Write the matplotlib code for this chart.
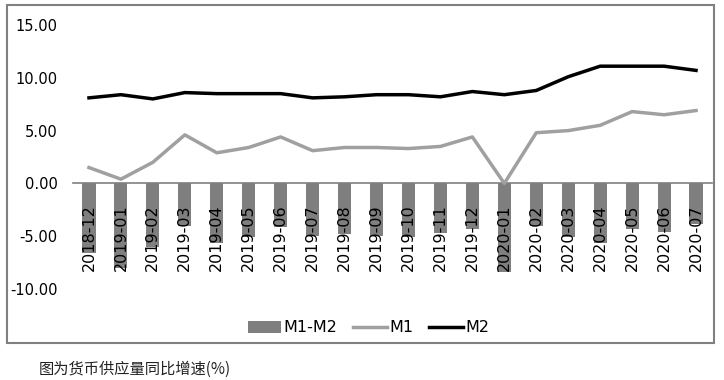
import numpy as np
import matplotlib.pyplot as plt
from matplotlib.patches import Rectangle

months = ['2018-12', '2019-01', '2019-02', '2019-03', '2019-04', '2019-05',
          '2019-06', '2019-07', '2019-08', '2019-09', '2019-10', '2019-11',
          '2019-12', '2020-01', '2020-02', '2020-03', '2020-04', '2020-05',
          '2020-06', '2020-07']
m1 = [1.5, 0.4, 2.0, 4.6, 2.9, 3.4, 4.4, 3.1, 3.4, 3.4, 3.3, 3.5,
      4.4, 0.0, 4.8, 5.0, 5.5, 6.8, 6.5, 6.9]
m2 = [8.1, 8.4, 8.0, 8.6, 8.5, 8.5, 8.5, 8.1, 8.2, 8.4, 8.4, 8.2,
      8.7, 8.4, 8.8, 10.1, 11.1, 11.1, 11.1, 10.7]
m1_m2 = [a - b for a, b in zip(m1, m2)]
yticks = [-10, -5, 0, 5, 10, 15]

fig = plt.figure(figsize=(7.24, 3.80), dpi=100)
ax = fig.add_axes([73/724, 1 - 289/380, 639/724, 264/380])

# zero-line axis first (moving the spine resets the tick labels)
ax.spines['bottom'].set_position(('data', 0))
ax.spines['bottom'].set_color('#808080')
ax.spines['bottom'].set_linewidth(1.2)
for s in ['left', 'right', 'top']:
    ax.spines[s].set_visible(False)

x = np.arange(len(months))
bars = ax.bar(x, m1_m2, width=0.41, color='#7f7f7f', label='M1-M2', zorder=1)
l1, = ax.plot(x, m1, color='#a0a0a0', lw=2.5, label='M1', zorder=3)
l2, = ax.plot(x, m2, color='black', lw=2.5, label='M2', zorder=3)

ax.set_xlim(-0.5, len(months) - 0.5)
ax.set_ylim(-10, 15)
ax.set_yticks(yticks)
ax.set_yticklabels([f'{v:.2f}' for v in yticks], fontsize=10.5)
ax.tick_params(axis='y', length=0, pad=11)

ax.set_xticks(x)
ax.set_xticklabels(months, rotation=90, fontsize=11.5)
ax.tick_params(axis='x', length=0, pad=15)

fig.legend([bars, l1, l2], ['M1-M2', 'M1', 'M2'], loc='center',
           bbox_to_anchor=(0.509, 1 - 328/380), ncol=3,
           frameon=False, fontsize=11.5, handlelength=2.1, handleheight=0.7,
           handletextpad=0.15, columnspacing=1.0)

fig.patches.append(Rectangle((7/724, 1 - 343/380), 707/724, 338/380,
                             transform=fig.transFigure, fill=False,
                             edgecolor='#808080', lw=1.5))

fig.text(39/724, 1 - 369/380, '图为货币供应量同比增速(%)', fontsize=11,
         family=['Noto Sans CJK SC', 'DejaVu Sans'], va='center', color='#222222')

fig.savefig('out.png', dpi=100)
